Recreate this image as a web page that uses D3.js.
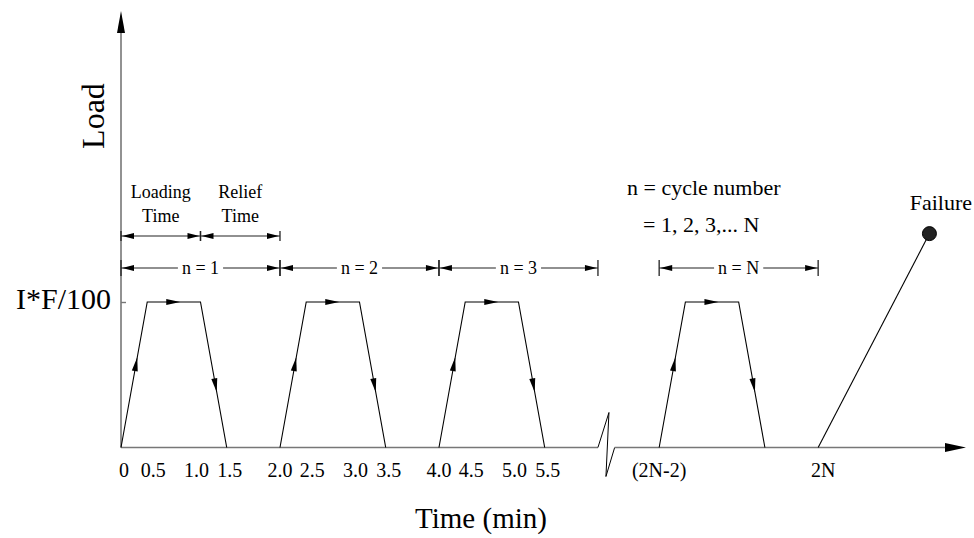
<!DOCTYPE html>
<html>
<head>
<meta charset="utf-8">
<script src="https://cdn.jsdelivr.net/npm/d3@7"></script>
<style>
body { margin: 0; background: #fff; }
text { font-family: "Liberation Serif", "Times New Roman", serif; fill: #000; }
</style>
</head>
<body>
<svg id="chart" width="974" height="538"></svg>
<script>
// cycle data (time in min as drawn, load as fraction of I*F/100)
var cycleNames = ["1", "2", "3", "N"];
var cycleStart = [0, 2, 4, 6.77];        // N cycle is drawn after the axis break
var cycleLength = 2.0;
var loadingTime = 1.0;
var profileTime = [0, 0.33, 1.0, 1.33];   // ramp up, hold, ramp down
var profileLoad = [0, 1, 1, 0];
var tickLabels = [
    ["0", "0.5", "1.0", "1.5"],
    ["2.0", "2.5", "3.0", "3.5"],
    ["4.0", "4.5", "5.0", "5.5"],
    ["(2N-2)", "", "", ""]
];
var endLabel = "2N";
var peakLabel = "I*F/100";
var failureTime = 10.17, failureLoad = 1.47;
var breakTime = [6.0, 6.21];

var svg = d3.select("#chart"),
    x = d3.scaleLinear().domain([0, 10.63]).range([121, 966]),
    y = d3.scaleLinear().domain([0, 3]).range([447.5, 11]);

var axisColor = "#777";

function arrow(g, tx, ty, ang, len, hw, fill) {
    g.append("path")
        .attr("d", "M0,0L" + (-len) + "," + hw + "L" + (-len) + "," + (-hw) + "Z")
        .attr("transform", "translate(" + tx + "," + ty + ") rotate(" + (ang * 180 / Math.PI) + ")")
        .attr("fill", fill || "#000");
}

// y axis
svg.append("line")
    .attr("x1", x(0)).attr("x2", x(0))
    .attr("y1", y(0)).attr("y2", y(3) + 20)
    .attr("stroke", axisColor).attr("stroke-width", 1.6);
arrow(svg, x(0), y(3), -Math.PI / 2, 22, 4);

var yAxis = d3.axisLeft(y)
    .tickValues([1])
    .tickFormat(() => peakLabel)
    .tickSizeInner(-5)
    .tickSizeOuter(0)
    .tickPadding(10);
var yg = svg.append("g")
    .attr("transform", "translate(" + x(0) + ",0)")
    .call(yAxis);
yg.select(".domain").remove();
yg.selectAll(".tick line").attr("stroke", axisColor).attr("stroke-width", 1.4);
yg.selectAll(".tick text")
    .attr("dy", "0.2em")
    .style("font-family", "'Liberation Serif', serif")
    .style("font-size", "30px");

svg.append("text")
    .attr("transform", "translate(104,116) rotate(-90)")
    .attr("text-anchor", "middle")
    .style("font-size", "32px")
    .text("Load");

// x axis with break
var y0 = y(0);
svg.append("line")
    .attr("x1", x(0)).attr("x2", x(breakTime[0]))
    .attr("y1", y0).attr("y2", y0)
    .attr("stroke", axisColor).attr("stroke-width", 1.6);
svg.append("path")
    .attr("d", "M" + x(breakTime[0]) + "," + y0 +
        "L" + (x(breakTime[0]) + 11) + "," + (y0 - 35) +
        "L" + (x(breakTime[0]) + 8) + "," + (y0 + 29) +
        "L" + x(breakTime[1]) + "," + y0)
    .attr("fill", "none").attr("stroke", "#000").attr("stroke-width", 1);
svg.append("line")
    .attr("x1", x(breakTime[1])).attr("x2", x(10.63) - 20)
    .attr("y1", y0).attr("y2", y0)
    .attr("stroke", axisColor).attr("stroke-width", 1.6);
arrow(svg, x(10.63), y0, 0, 21, 4.5);

svg.append("text")
    .attr("x", 481).attr("y", 528)
    .attr("text-anchor", "middle")
    .style("font-size", "29px")
    .text("Time (min)");

// load cycles
var line = d3.line().x(d => x(d.t)).y(d => y(d.p));
var nudge = [0, 6, -4, 3];

cycleStart.forEach((s, i) => {
    var pts = profileTime.map((t, j) => ({t: s + t, p: profileLoad[j]}));
    svg.append("path")
        .attr("d", line(pts))
        .attr("fill", "none").attr("stroke", "#000").attr("stroke-width", 1.1);

    for (var j = 0; j < pts.length - 1; j++) {
        var ax = x(pts[j].t), ay = y(pts[j].p),
            bx = x(pts[j + 1].t), by = y(pts[j + 1].p),
            f = 0.62;
        arrow(svg, ax + f * (bx - ax), ay + f * (by - ay), Math.atan2(by - ay, bx - ax), 14, 3);
    }

    tickLabels[i].forEach((lab, j) => {
        if (!lab) return;
        svg.append("text")
            .attr("x", x(s + profileTime[j]) + (i == 0 && j == 0 ? 3 : nudge[j]))
            .attr("y", 477)
            .attr("text-anchor", "middle")
            .style("font-size", "20px")
            .text(lab);
    });

    bracket(s, s + cycleLength, 268, 8, "n = " + cycleNames[i]);
});

svg.append("text")
    .attr("x", x(cycleStart[3] + cycleLength) + 5).attr("y", 477)
    .attr("text-anchor", "middle")
    .style("font-size", "20px")
    .text(endLabel);

// loading / relief brackets on first cycle
bracket(0, loadingTime, 236, 5, null);
bracket(loadingTime, cycleLength, 236, 5, null);
[["Loading", "Time"], ["Relief", "Time"]].forEach((words, k) => {
    var cx = k == 0 ? x(loadingTime / 2) : x((loadingTime + cycleLength) / 2);
    words.forEach((w, r) => {
        svg.append("text")
            .attr("x", cx).attr("y", 198 + r * 24)
            .attr("text-anchor", "middle")
            .style("font-size", "18px")
            .text(w);
    });
});

function bracket(t1, t2, yy, th, label) {
    var x1 = x(t1), x2 = x(t2), g = svg.append("g");
    var c = "#222";
    g.append("line").attr("x1", x1).attr("x2", x1).attr("y1", yy - th).attr("y2", yy + th)
        .attr("stroke", c).attr("stroke-width", 1.3);
    g.append("line").attr("x1", x2).attr("x2", x2).attr("y1", yy - th).attr("y2", yy + th)
        .attr("stroke", c).attr("stroke-width", 1.3);
    if (label) {
        var tx = g.append("text")
            .attr("x", (x1 + x2) / 2).attr("y", yy).attr("dy", "0.35em")
            .attr("text-anchor", "middle")
            .style("font-size", "18px")
            .text(label);
        var w = tx.node().getComputedTextLength() / 2 + 4;
        g.append("line").attr("x1", x1).attr("x2", (x1 + x2) / 2 - w).attr("y1", yy).attr("y2", yy)
            .attr("stroke", c).attr("stroke-width", 1.1);
        g.append("line").attr("x1", (x1 + x2) / 2 + w).attr("x2", x2).attr("y1", yy).attr("y2", yy)
            .attr("stroke", c).attr("stroke-width", 1.1);
    } else {
        g.append("line").attr("x1", x1).attr("x2", x2).attr("y1", yy).attr("y2", yy)
            .attr("stroke", c).attr("stroke-width", 1.1);
    }
    arrow(g, x1 + 1, yy, Math.PI, 12, 3, "#000");
    arrow(g, x2 - 1, yy, 0, 12, 3, "#000");
}

// annotation and failure
svg.append("text").attr("x", 627).attr("y", 195)
    .style("font-size", "22px").text("n = cycle number");
svg.append("text").attr("x", 643).attr("y", 232)
    .style("font-size", "22px").text("= 1, 2, 3,... N");

svg.append("line")
    .attr("x1", x(cycleStart[3] + cycleLength)).attr("y1", y(0))
    .attr("x2", x(failureTime)).attr("y2", y(failureLoad))
    .attr("stroke", "#000").attr("stroke-width", 1.1);
svg.append("circle")
    .attr("cx", x(failureTime)).attr("cy", y(failureLoad)).attr("r", 7)
    .attr("fill", "#222").attr("stroke", "#000");
svg.append("text").attr("x", 972).attr("y", 210)
    .attr("text-anchor", "end")
    .style("font-size", "22px").text("Failure");
</script>
</body>
</html>
